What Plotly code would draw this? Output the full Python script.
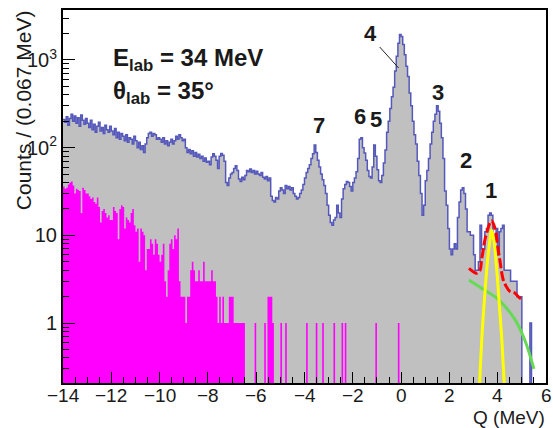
import numpy as np
import plotly.graph_objects as go

# ---------------- data ----------------
q_start = -14.0
q_stop = 6.0
n_bins = 300  # 0.067 MeV bins

gray_counts = [
    210, 195, 225, 180, 215, 240, 200, 230, 190, 220, 175, 235, 205, 185, 215,
    190, 170, 205, 160, 185, 150, 175, 195, 155, 170, 145, 180, 160, 150, 175,
    155, 140, 165, 130, 150, 125, 145, 135, 120, 140, 115, 130, 125, 110, 135,
    120, 100, 115, 95, 105, 88, 110, 130, 145, 150, 135, 145, 140, 125, 130,
    125, 115, 130, 110, 120, 105, 115, 125, 110, 120, 135, 125, 140, 130, 120,
    125, 100, 88, 95, 85, 92, 80, 88, 78, 84, 75, 80, 70, 76, 68,
    70, 64, 78, 85, 80, 72, 58, 80, 86, 82, 70, 40, 37, 45, 50,
    52, 58, 62, 55, 44, 41, 46, 43, 48, 55, 53, 57, 52, 55, 50,
    54, 50, 48, 52, 46, 44, 47, 42, 45, 28, 25, 24, 27, 26, 32,
    35, 33, 30, 37, 34, 36, 33, 35, 30, 28, 26, 27, 30, 33, 38,
    45, 52, 58, 64, 75, 85, 107, 88, 72, 60, 50, 43, 37, 30, 22,
    17, 14, 13, 15, 16, 22, 18, 16, 26, 34, 38, 41, 40, 36, 32,
    40, 45, 53, 75, 125, 130, 100, 87, 72, 55, 47, 45, 60, 107, 80,
    56, 42, 40, 48, 67, 94, 150, 200, 280, 380, 490, 750, 1100, 1550, 1950,
    1850, 1500, 1150, 850, 650, 420, 300, 200, 140, 110, 70, 48, 30, 17, 22,
    42, 55, 75, 110, 150, 200, 240, 300, 260, 190, 130, 75, 32, 22, 12,
    7, 6, 7, 8, 7, 16, 24, 33, 35, 30, 20, 11, 11, 10, 10,
    6, 4, 4, 5, 13, 7, 7, 11, 12, 17, 18, 17, 10, 9, 12,
    6, 11, 12, 13, 4, 4, 4, 4, 3, 3, 3, 3, 2, 2, 2,
    0, 0, 0, 0, 0, 1, 0, 0, 0, 0, 0, 0, 0, 0, 0,
]

magenta_counts = [
    36, 34, 35, 38, 40, 41, 37, 30, 34, 33, 32, 18, 35, 33, 30,
    30, 28, 26, 27, 24, 23, 27, 21, 14, 19, 20, 18, 16, 17, 15,
    15, 21, 19, 18, 9, 20, 22, 21, 12, 16, 15, 14, 18, 20, 13,
    11, 12, 5, 12, 11, 10, 4, 7, 7, 9, 8, 6, 9, 8, 6,
    5, 6, 8, 3, 2, 4, 8, 9, 7, 10, 9, 12, 3, 2, 2,
    2, 1, 2, 2, 4, 5, 4, 3, 3, 4, 3, 3, 5, 3, 3,
    3, 3, 4, 3, 3, 2, 1, 2, 1, 2, 1, 1, 1, 2, 2,
    2, 1, 1, 1, 1, 1, 1, 1, 0, 0, 0, 0, 0, 0, 1,
    0, 0, 0, 0, 0, 1, 0, 2, 2, 2, 1, 0, 0, 0, 0,
    1, 0, 0, 1, 0, 0, 0, 0, 0, 0, 0, 0, 0, 0, 0,
    0, 1, 0, 0, 0, 0, 0, 1, 0, 0, 0, 1, 0, 0, 0,
    0, 0, 0, 1, 0, 0, 0, 0, 1, 0, 1, 0, 0, 0, 0,
    0, 0, 0, 0, 0, 0, 0, 0, 0, 0, 0, 0, 0, 0, 1,
    0, 0, 0, 0, 0, 0, 0, 0, 0, 0, 0, 0, 0, 1, 0,
] + [0] * 90

# fit curves
red_q = [2.81, 2.99, 3.13, 3.27, 3.33, 3.40, 3.47, 3.58, 3.68, 3.745, 3.84, 3.95, 4.02, 4.09, 4.23, 4.36, 4.50, 4.71, 4.85, 4.98]
red_v = [4.2, 3.85, 3.7, 4.0, 5.2, 6.8, 8.9, 11.5, 14.0, 14.7, 13.2, 9.7, 6.8, 5.2, 3.1, 2.6, 2.3, 2.2, 2.0, 1.87]
green_q = [2.81, 3.33, 4.02, 4.71, 5.12, 5.50]
green_v = [3.1, 2.5, 1.86, 1.1, 0.64, 0.30]
yellow_q = [3.25, 3.36, 3.47, 3.58, 3.68, 3.745, 3.84, 3.95, 4.05, 4.16, 4.27]
yellow_v = [0.2, 0.8, 2.2, 5.2, 8.9, 11.5, 8.9, 4.4, 1.9, 0.72, 0.2]

x_tick_vals = [-14, -12, -10, -8, -6, -4, -2, 0, 2, 4, 6]
x_tick_text = ["\u221214", "\u221212", "\u221210", "\u22128", "\u22126", "\u22124", "\u22122", "0", "2", "4", "6"]
y_tick_vals = [1, 10, 100, 1000]
y_tick_text = ["1", "10", "10<sup>2</sup>", "10<sup>3</sup>"]

peak_labels = ["7", "6", "5", "4", "3", "2", "1"]

# ---------------- build ----------------
edges = np.linspace(q_start, q_stop, n_bins + 1)
FLOOR = 1e-3


def step(vals):
    xs, ys = [], []
    for i, v in enumerate(vals):
        v = v if v > 0 else FLOOR
        xs += [edges[i], edges[i + 1]]
        ys += [v, v]
    return xs, ys


gx, gy = step(gray_counts)
mx, my = step(magenta_counts)

FONT = "Liberation Sans, Arial, Helvetica, sans-serif"
TXT = "#1a1a1a"

fig = go.Figure()
fig.add_trace(go.Scatter(
    x=gx + [edges[-1], edges[0]], y=gy + [FLOOR, FLOOR],
    mode="lines", fill="toself", fillcolor="#c0c0c0",
    line=dict(width=0), hoverinfo="skip", showlegend=False))
fig.add_trace(go.Scatter(
    x=gx, y=gy, mode="lines", line=dict(color="#5558bb", width=1.5),
    hoverinfo="skip", showlegend=False))
fig.add_trace(go.Scatter(
    x=mx + [edges[-1], edges[0]], y=my + [FLOOR, FLOOR],
    mode="lines", fill="toself", fillcolor="#ff00ff",
    line=dict(width=0), hoverinfo="skip", showlegend=False))
fig.add_trace(go.Scatter(x=green_q, y=green_v, mode="lines", line=dict(color="#66d955", width=3, shape="spline"), showlegend=False))
fig.add_trace(go.Scatter(x=yellow_q, y=yellow_v, mode="lines", line=dict(color="#ffff00", width=3, shape="spline"), showlegend=False))
fig.add_trace(go.Scatter(x=red_q, y=red_v, mode="lines", line=dict(color="#ff0000", width=3, shape="spline", dash="10px,3px"), showlegend=False))

W0, W1, H0, H1 = 63, 548, 10, 383


def px_to_paper(px, py):
    return (px - W0) / (W1 - W0), 1 - (py - H0) / (H1 - H0)


label_pos = {"7": (320, 125), "6": (361, 117), "5": (377, 120), "4": (372, 33),
             "3": (440, 92), "2": (468, 160), "1": (493, 190)}
annotations = []
for lab in peak_labels:
    px, py = label_pos[lab]
    ax_, ay_ = px_to_paper(px, py)
    annotations.append(dict(x=ax_, y=ay_, xref="paper", yref="paper", text="<b>%s</b>" % lab,
                            showarrow=False, font=dict(family=FONT, size=22, color=TXT),
                            xanchor="center", yanchor="middle"))

sx0, sy0 = px_to_paper(381, 47)
sx1, sy1 = px_to_paper(400, 68)
fig.add_shape(type="line", xref="paper", yref="paper", x0=sx0, y0=sy0, x1=sx1, y1=sy1,
              line=dict(color="#222222", width=1))

ex, ey = px_to_paper(111, 60)
annotations.append(dict(x=ex, y=ey, xref="paper", yref="paper", text="<b>E<sub>lab</sub> = 34 MeV</b>",
                        showarrow=False, font=dict(family=FONT, size=24, color=TXT),
                        xanchor="left", yanchor="middle"))
tx, ty = px_to_paper(111, 92)
annotations.append(dict(x=tx, y=ty, xref="paper", yref="paper", text="<b>θ<sub>lab</sub> = 35°</b>",
                        showarrow=False, font=dict(family=FONT, size=24, color=TXT),
                        xanchor="left", yanchor="middle"))
# x tick labels placed just under the frame
_, tly = px_to_paper(0, 395)
for v, t in zip(x_tick_vals, x_tick_text):
    annotations.append(dict(x=v, y=tly, xref="x", yref="paper", text=t, showarrow=False,
                            font=dict(family=FONT, size=19, color=TXT),
                            xanchor="center", yanchor="middle"))
# axis titles
yx, yy = px_to_paper(24, 110)
annotations.append(dict(x=yx, y=yy, xref="paper", yref="paper", text="Counts / (0.067 MeV)",
                        textangle=-90, showarrow=False, font=dict(family=FONT, size=21, color=TXT),
                        xanchor="center", yanchor="middle"))
qx, qy = px_to_paper(549, 417)
annotations.append(dict(x=qx, y=qy, xref="paper", yref="paper", text="Q (MeV)",
                        showarrow=False, font=dict(family=FONT, size=19, color=TXT),
                        xanchor="right", yanchor="middle"))

fig.update_layout(
    width=553, height=428,
    margin=dict(l=W0, r=553 - W1, t=H0, b=428 - H1),
    paper_bgcolor="white", plot_bgcolor="white",
    annotations=annotations,
    font=dict(family=FONT, size=20, color=TXT),
)
fig.update_xaxes(
    range=[q_start, q_stop], tickvals=x_tick_vals, showticklabels=False,
    ticks="inside", ticklen=11, tickwidth=1, tickcolor="black",
    minor=dict(dtick=0.5, ticks="inside", ticklen=6, tickcolor="black", showgrid=False),
    showgrid=False, zeroline=False, showline=True, linecolor="black", linewidth=2, mirror=True,
)
fig.update_yaxes(
    type="log", range=[-0.684, 3.57], tickvals=y_tick_vals, ticktext=y_tick_text,
    ticks="inside", ticklen=12, tickwidth=1, tickcolor="black",
    minor=dict(dtick="D1", ticks="inside", ticklen=6, tickcolor="black", showgrid=False),
    showgrid=False, zeroline=False, showline=True, linecolor="black", linewidth=2, mirror=True,
    tickfont=dict(family=FONT, size=20, color=TXT),
)

fig.write_html("out.html")
